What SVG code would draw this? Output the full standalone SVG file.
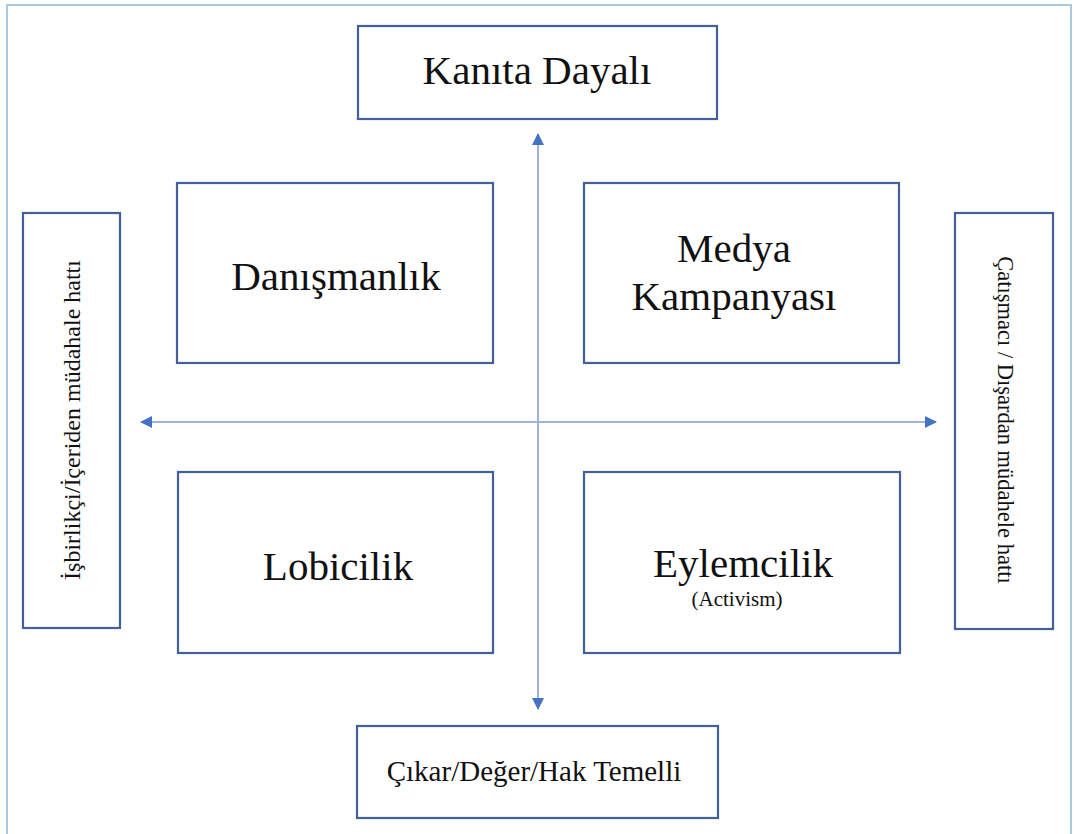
<svg xmlns="http://www.w3.org/2000/svg" width="1075" height="834" viewBox="0 0 1075 834">
<style>
.box{fill:#fff;stroke:#42609a;stroke-width:2.2}
.t{font-family:"Liberation Serif","Times New Roman",serif;fill:#111;text-anchor:middle}
.ln{stroke:#9fb3d8;stroke-width:2;fill:none}
</style>
<defs>
<marker id="ah" viewBox="0 0 12 12" refX="11" refY="6" markerWidth="12" markerHeight="12" markerUnits="userSpaceOnUse" orient="auto">
<path d="M0,0 L12,6 L0,12 Z" fill="#4472c4"/>
</marker>
</defs>
<rect x="0" y="0" width="1075" height="834" fill="#fff"/>
<rect x="7" y="5" width="1064" height="845" fill="none" stroke="#a6c9e4" stroke-width="2"/>
<g id="connectors">
<line class="ln" x1="538" y1="424" x2="538" y2="134" marker-end="url(#ah)"/>
<line class="ln" x1="538" y1="424" x2="538" y2="709" marker-end="url(#ah)"/>
<line class="ln" x1="538" y1="422" x2="141" y2="422" marker-end="url(#ah)"/>
<line class="ln" x1="538" y1="422" x2="936" y2="422" marker-end="url(#ah)"/>
</g>
<g id="kanita">
<rect class="box" x="358" y="26" width="359" height="93"/>
<text class="t" x="537" y="84" font-size="41">Kanıta Dayalı</text>
</g>
<g id="danismanlik">
<rect class="box" x="177" y="183" width="316" height="180"/>
<text class="t" x="336" y="290" font-size="41">Danışmanlık</text>
</g>
<g id="medya">
<rect class="box" x="584" y="183" width="315" height="180"/>
<text class="t" x="734" y="262" font-size="41">Medya</text>
<text class="t" x="734" y="310" font-size="41">Kampanyası</text>
</g>
<g id="lobicilik">
<rect class="box" x="178" y="472" width="315" height="181"/>
<text class="t" x="338" y="580" font-size="41">Lobicilik</text>
</g>
<g id="eylemcilik">
<rect class="box" x="584" y="472" width="316" height="181"/>
<text class="t" x="743" y="577" font-size="41">Eylemcilik</text>
<text class="t" x="737" y="606" font-size="21">(Activism)</text>
</g>
<g id="isbirlikci">
<rect class="box" x="23" y="213" width="97" height="415"/>
<text class="t" transform="translate(80,420) rotate(-90)" font-size="24">İşbirlikçi/İçeriden müdahale hattı</text>
</g>
<g id="catismaci">
<rect class="box" x="955" y="213" width="98" height="416"/>
<text class="t" transform="translate(998,420) rotate(90)" font-size="22.5">Çatışmacı / Dışardan müdahele hattı</text>
</g>
<g id="cikar">
<rect class="box" x="357" y="726" width="361" height="92"/>
<text class="t" x="534" y="781" font-size="29">Çıkar/Değer/Hak Temelli</text>
</g>
</svg>
